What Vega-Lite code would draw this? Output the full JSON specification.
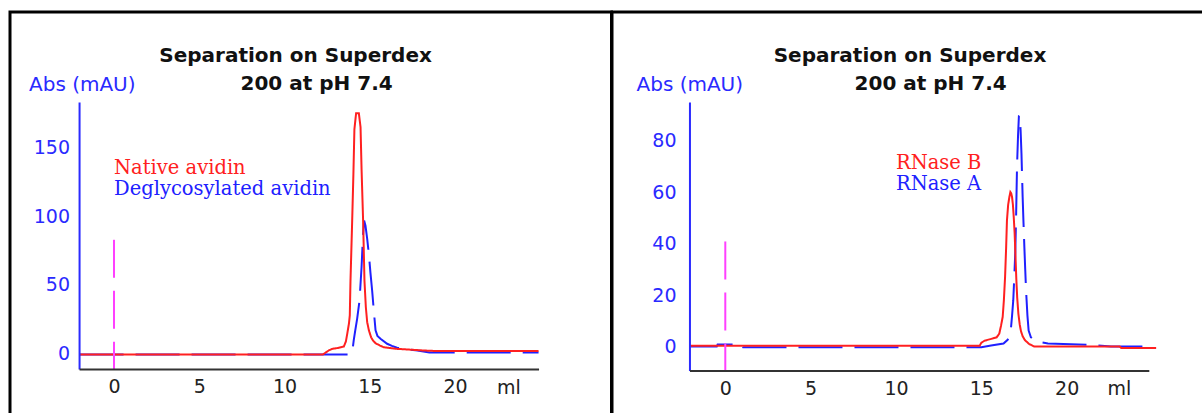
{
  "$schema": "https://vega.github.io/schema/vega-lite/v6.json",
  "padding": {"left": 8, "top": 10, "right": 0, "bottom": 0},
  "background": "white",
  "spacing": 0,
  "bounds": "flush",
  "config": {
    "view": {"stroke": "black", "strokeWidth": 3},
    "axis": {"grid": false, "domain": false, "ticks": false, "tickSize": 0, "labelFont": "DejaVu Sans", "labelFontSize": 19, "titleFont": "DejaVu Sans", "titleFontWeight": "normal", "labelFlush": false, "labelOverlap": false}
  },
  "datasets": {
    "avidin": [
      {"sample": "Deglycosylated avidin", "ml": -2.02, "abs": -0.5},
      {"sample": "Deglycosylated avidin", "ml": 13.9, "abs": -0.5},
      {"sample": "Deglycosylated avidin", "ml": 13.97, "abs": 1},
      {"sample": "Deglycosylated avidin", "ml": 14.06, "abs": 9.7},
      {"sample": "Deglycosylated avidin", "ml": 14.15, "abs": 17},
      {"sample": "Deglycosylated avidin", "ml": 14.26, "abs": 25.4},
      {"sample": "Deglycosylated avidin", "ml": 14.4, "abs": 38.7},
      {"sample": "Deglycosylated avidin", "ml": 14.52, "abs": 63},
      {"sample": "Deglycosylated avidin", "ml": 14.6, "abs": 85},
      {"sample": "Deglycosylated avidin", "ml": 14.67, "abs": 96.8},
      {"sample": "Deglycosylated avidin", "ml": 14.75, "abs": 93},
      {"sample": "Deglycosylated avidin", "ml": 14.85, "abs": 83.5},
      {"sample": "Deglycosylated avidin", "ml": 14.95, "abs": 72},
      {"sample": "Deglycosylated avidin", "ml": 15.04, "abs": 59},
      {"sample": "Deglycosylated avidin", "ml": 15.14, "abs": 46},
      {"sample": "Deglycosylated avidin", "ml": 15.24, "abs": 31},
      {"sample": "Deglycosylated avidin", "ml": 15.34, "abs": 17},
      {"sample": "Deglycosylated avidin", "ml": 15.45, "abs": 13},
      {"sample": "Deglycosylated avidin", "ml": 15.63, "abs": 10.9},
      {"sample": "Deglycosylated avidin", "ml": 16.02, "abs": 7.3},
      {"sample": "Deglycosylated avidin", "ml": 16.3, "abs": 5.8},
      {"sample": "Deglycosylated avidin", "ml": 16.6, "abs": 4.4},
      {"sample": "Deglycosylated avidin", "ml": 17.2, "abs": 3.2},
      {"sample": "Deglycosylated avidin", "ml": 17.8, "abs": 2.4},
      {"sample": "Deglycosylated avidin", "ml": 18.5, "abs": 1.0},
      {"sample": "Deglycosylated avidin", "ml": 24.9, "abs": 1.0},
      {"sample": "Native avidin", "ml": -2.02, "abs": -0.5},
      {"sample": "Native avidin", "ml": 12.25, "abs": -0.5},
      {"sample": "Native avidin", "ml": 12.4, "abs": 0.8},
      {"sample": "Native avidin", "ml": 12.6, "abs": 2.5},
      {"sample": "Native avidin", "ml": 12.8, "abs": 3.6},
      {"sample": "Native avidin", "ml": 13.1, "abs": 4.2},
      {"sample": "Native avidin", "ml": 13.48, "abs": 5.3},
      {"sample": "Native avidin", "ml": 13.6, "abs": 9},
      {"sample": "Native avidin", "ml": 13.68, "abs": 14.5},
      {"sample": "Native avidin", "ml": 13.78, "abs": 22},
      {"sample": "Native avidin", "ml": 13.83, "abs": 28},
      {"sample": "Native avidin", "ml": 13.87, "abs": 53},
      {"sample": "Native avidin", "ml": 13.92, "abs": 75},
      {"sample": "Native avidin", "ml": 13.97, "abs": 97},
      {"sample": "Native avidin", "ml": 14.04, "abs": 130},
      {"sample": "Native avidin", "ml": 14.1, "abs": 163},
      {"sample": "Native avidin", "ml": 14.2, "abs": 174.7},
      {"sample": "Native avidin", "ml": 14.36, "abs": 174.7},
      {"sample": "Native avidin", "ml": 14.46, "abs": 164.6},
      {"sample": "Native avidin", "ml": 14.52, "abs": 134},
      {"sample": "Native avidin", "ml": 14.61, "abs": 96.8},
      {"sample": "Native avidin", "ml": 14.69, "abs": 53},
      {"sample": "Native avidin", "ml": 14.77, "abs": 34},
      {"sample": "Native avidin", "ml": 14.85, "abs": 23},
      {"sample": "Native avidin", "ml": 14.95, "abs": 17},
      {"sample": "Native avidin", "ml": 15.08, "abs": 12},
      {"sample": "Native avidin", "ml": 15.2, "abs": 9.5},
      {"sample": "Native avidin", "ml": 15.34, "abs": 7.7},
      {"sample": "Native avidin", "ml": 15.6, "abs": 6},
      {"sample": "Native avidin", "ml": 15.82, "abs": 4.8},
      {"sample": "Native avidin", "ml": 16.6, "abs": 3.6},
      {"sample": "Native avidin", "ml": 17.4, "abs": 3},
      {"sample": "Native avidin", "ml": 18.2, "abs": 2.4},
      {"sample": "Native avidin", "ml": 19, "abs": 2.0},
      {"sample": "Native avidin", "ml": 24.9, "abs": 2.0}
    ],
    "rnase": [
      {"sample": "RNase A", "ml": -2.07, "abs": 0},
      {"sample": "RNase A", "ml": -0.5, "abs": 0},
      {"sample": "RNase A", "ml": -0.45, "abs": 0.8},
      {"sample": "RNase A", "ml": 1.0, "abs": 0.8},
      {"sample": "RNase A", "ml": 1.05, "abs": -0.3},
      {"sample": "RNase A", "ml": 15.0, "abs": -0.3},
      {"sample": "RNase A", "ml": 15.57, "abs": 0.4},
      {"sample": "RNase A", "ml": 16.3, "abs": 1.2},
      {"sample": "RNase A", "ml": 16.54, "abs": 2.6},
      {"sample": "RNase A", "ml": 16.65, "abs": 4},
      {"sample": "RNase A", "ml": 16.74, "abs": 7.5},
      {"sample": "RNase A", "ml": 16.8, "abs": 12},
      {"sample": "RNase A", "ml": 16.87, "abs": 18},
      {"sample": "RNase A", "ml": 16.93, "abs": 27},
      {"sample": "RNase A", "ml": 16.99, "abs": 37},
      {"sample": "RNase A", "ml": 17.04, "abs": 52},
      {"sample": "RNase A", "ml": 17.09, "abs": 70},
      {"sample": "RNase A", "ml": 17.15, "abs": 82},
      {"sample": "RNase A", "ml": 17.2, "abs": 89.5},
      {"sample": "RNase A", "ml": 17.25, "abs": 89.7},
      {"sample": "RNase A", "ml": 17.3, "abs": 84},
      {"sample": "RNase A", "ml": 17.35, "abs": 75},
      {"sample": "RNase A", "ml": 17.42, "abs": 58},
      {"sample": "RNase A", "ml": 17.47, "abs": 48},
      {"sample": "RNase A", "ml": 17.52, "abs": 38.6},
      {"sample": "RNase A", "ml": 17.57, "abs": 30},
      {"sample": "RNase A", "ml": 17.62, "abs": 21.7},
      {"sample": "RNase A", "ml": 17.7, "abs": 12},
      {"sample": "RNase A", "ml": 17.77, "abs": 6.2},
      {"sample": "RNase A", "ml": 17.9, "abs": 3.6},
      {"sample": "RNase A", "ml": 18.2, "abs": 2.0},
      {"sample": "RNase A", "ml": 18.9, "abs": 1.2},
      {"sample": "RNase A", "ml": 21.5, "abs": 0.6},
      {"sample": "RNase A", "ml": 22.6, "abs": 0},
      {"sample": "RNase A", "ml": 24.84, "abs": 0},
      {"sample": "RNase B", "ml": -2.07, "abs": 0.3},
      {"sample": "RNase B", "ml": 14.9, "abs": 0.3},
      {"sample": "RNase B", "ml": 15.0, "abs": 1.5},
      {"sample": "RNase B", "ml": 15.2, "abs": 2.3},
      {"sample": "RNase B", "ml": 15.6, "abs": 3.0},
      {"sample": "RNase B", "ml": 15.9, "abs": 3.6},
      {"sample": "RNase B", "ml": 16.05, "abs": 5},
      {"sample": "RNase B", "ml": 16.15, "abs": 8},
      {"sample": "RNase B", "ml": 16.25, "abs": 11.5},
      {"sample": "RNase B", "ml": 16.32, "abs": 18},
      {"sample": "RNase B", "ml": 16.39, "abs": 27},
      {"sample": "RNase B", "ml": 16.45, "abs": 38},
      {"sample": "RNase B", "ml": 16.5, "abs": 49},
      {"sample": "RNase B", "ml": 16.57, "abs": 55},
      {"sample": "RNase B", "ml": 16.64, "abs": 58},
      {"sample": "RNase B", "ml": 16.7, "abs": 60},
      {"sample": "RNase B", "ml": 16.75, "abs": 59.5},
      {"sample": "RNase B", "ml": 16.8, "abs": 58},
      {"sample": "RNase B", "ml": 16.85, "abs": 55},
      {"sample": "RNase B", "ml": 16.9, "abs": 50},
      {"sample": "RNase B", "ml": 16.95, "abs": 44},
      {"sample": "RNase B", "ml": 17.0, "abs": 35},
      {"sample": "RNase B", "ml": 17.05, "abs": 26},
      {"sample": "RNase B", "ml": 17.1, "abs": 19},
      {"sample": "RNase B", "ml": 17.17, "abs": 12.7},
      {"sample": "RNase B", "ml": 17.25, "abs": 8.5},
      {"sample": "RNase B", "ml": 17.32, "abs": 6},
      {"sample": "RNase B", "ml": 17.42, "abs": 4},
      {"sample": "RNase B", "ml": 17.55, "abs": 2.5},
      {"sample": "RNase B", "ml": 17.8, "abs": 1.0},
      {"sample": "RNase B", "ml": 18.1, "abs": 0},
      {"sample": "RNase B", "ml": 23.1, "abs": 0},
      {"sample": "RNase B", "ml": 23.2, "abs": -0.6},
      {"sample": "RNase B", "ml": 25.24, "abs": -0.6}
    ]
  },
  "hconcat": [
    {
      "width": 601.5,
      "height": 410,
      "layer": [
        {
          "data": {"name": "avidin"},
          "mark": {"type": "line", "strokeWidth": 2},
          "encoding": {
            "x": {"field": "ml", "type": "quantitative",
              "scale": {"domain": [-6.1, 29.179], "nice": false, "zero": false},
              "axis": {"values": [0, 5, 10, 15, 20], "offset": -52.5, "labelPadding": 8, "labelColor": "#222222",
                "title": "ml", "titleX": 498.5, "titleY": 23.5, "titleAlign": "center", "titleBaseline": "alphabetic", "titleFontSize": 19, "titleColor": "#222222"}},
            "y": {"field": "abs", "type": "quantitative",
              "scale": {"domain": [-49.5, 248.2], "nice": false, "zero": false},
              "axis": {"values": [0, 50, 100, 150], "offset": -69.5, "labelPadding": 10, "labelColor": "#2a2aff",
                "title": "Abs (mAU)", "titleAngle": 0, "titleX": -51, "titleY": 78.5, "titleAlign": "left", "titleBaseline": "alphabetic", "titleFontSize": 20, "titleColor": "#2a2aff"}},
            "color": {"field": "sample", "type": "nominal", "legend": null,
              "scale": {"domain": ["Native avidin", "Deglycosylated avidin"], "range": ["#ff2020", "#2020ff"]}},
            "strokeDash": {"field": "sample", "type": "nominal", "legend": null,
              "scale": {"domain": ["Native avidin", "Deglycosylated avidin"], "range": [[1, 0], [44, 12]]}}
          }
        },
        {
          "data": {"values": [{}]},
          "mark": {"type": "rule", "color": "#ff40ff", "strokeWidth": 2, "strokeDash": [38, 13]},
          "encoding": {"x": {"datum": 0}, "y": {"datum": 82.8}, "y2": {"datum": -11.4}}
        },
        {
          "data": {"values": [{}]},
          "mark": {"type": "rule", "color": "#2a2aff", "strokeWidth": 2},
          "encoding": {"x": {"datum": -2.02}, "y": {"datum": -11.4}, "y2": {"datum": 182.5}}
        },
        {
          "data": {"values": [{}]},
          "mark": {"type": "rule", "color": "#333333", "strokeWidth": 2},
          "encoding": {"x": {"datum": -2.02}, "x2": {"datum": 24.93}, "y": {"datum": -11.4}}
        },
        {
          "data": {"values": [{}]},
          "mark": {"type": "text", "text": "Separation on Superdex", "font": "DejaVu Sans", "fontWeight": "bold", "fontSize": 20, "color": "#111111", "align": "center", "baseline": "alphabetic"},
          "encoding": {"x": {"datum": 10.65}, "y": {"datum": 211.9}}
        },
        {
          "data": {"values": [{}]},
          "mark": {"type": "text", "text": "200 at pH 7.4", "font": "DejaVu Sans", "fontWeight": "bold", "fontSize": 20, "color": "#111111", "align": "center", "baseline": "alphabetic"},
          "encoding": {"x": {"datum": 11.88}, "y": {"datum": 191.9}}
        },
        {
          "data": {"values": [{"sample": "Native avidin"}]},
          "mark": {"type": "text", "font": "DejaVu Serif", "fontSize": 19.5, "align": "left", "baseline": "alphabetic"},
          "encoding": {"x": {"datum": 0}, "y": {"datum": 130.9}, "text": {"field": "sample"},
            "color": {"field": "sample", "type": "nominal", "legend": null,
              "scale": {"domain": ["Native avidin", "Deglycosylated avidin"], "range": ["#ff2020", "#2020ff"]}}}
        },
        {
          "data": {"values": [{"sample": "Deglycosylated avidin"}]},
          "mark": {"type": "text", "font": "DejaVu Serif", "fontSize": 19.5, "align": "left", "baseline": "alphabetic"},
          "encoding": {"x": {"datum": 0}, "y": {"datum": 115.0}, "text": {"field": "sample"},
            "color": {"field": "sample", "type": "nominal", "legend": null,
              "scale": {"domain": ["Native avidin", "Deglycosylated avidin"], "range": ["#ff2020", "#2020ff"]}}}
        }
      ]
    },
    {
      "width": 600,
      "height": 410,
      "layer": [
        {
          "data": {"name": "rnase"},
          "mark": {"type": "line", "strokeWidth": 2},
          "encoding": {
            "x": {"field": "ml", "type": "quantitative",
              "scale": {"domain": [-6.637, 28.512], "nice": false, "zero": false},
              "axis": {"values": [0, 5, 10, 15, 20], "offset": -51, "labelPadding": 8, "labelColor": "#222222",
                "title": "ml", "titleX": 507, "titleY": 23.5, "titleAlign": "center", "titleBaseline": "alphabetic", "titleFontSize": 19, "titleColor": "#222222"}},
            "y": {"field": "abs", "type": "quantitative",
              "scale": {"domain": [-29.3, 129.9], "nice": false, "zero": false},
              "axis": {"values": [0, 20, 40, 60, 80], "offset": -78, "labelPadding": 14, "labelColor": "#2a2aff",
                "title": "Abs (mAU)", "titleAngle": 0, "titleX": -54, "titleY": 78.5, "titleAlign": "left", "titleBaseline": "alphabetic", "titleFontSize": 20, "titleColor": "#2a2aff"}},
            "color": {"field": "sample", "type": "nominal", "legend": null,
              "scale": {"domain": ["RNase B", "RNase A"], "range": ["#ff2020", "#2020ff"]}},
            "strokeDash": {"field": "sample", "type": "nominal", "legend": null,
              "scale": {"domain": ["RNase B", "RNase A"], "range": [[1, 0], [44, 12]]}}
          }
        },
        {
          "data": {"values": [{}]},
          "mark": {"type": "rule", "color": "#ff40ff", "strokeWidth": 2, "strokeDash": [38, 13]},
          "encoding": {"x": {"datum": 0}, "y": {"datum": 40.8}, "y2": {"datum": -9.5}}
        },
        {
          "data": {"values": [{}]},
          "mark": {"type": "rule", "color": "#2a2aff", "strokeWidth": 2},
          "encoding": {"x": {"datum": -2.07}, "y": {"datum": -9.5}, "y2": {"datum": 94.8}}
        },
        {
          "data": {"values": [{}]},
          "mark": {"type": "rule", "color": "#333333", "strokeWidth": 2},
          "encoding": {"x": {"datum": -2.07}, "x2": {"datum": 24.84}, "y": {"datum": -9.5}}
        },
        {
          "data": {"values": [{}]},
          "mark": {"type": "text", "text": "Separation on Superdex", "font": "DejaVu Sans", "fontWeight": "bold", "fontSize": 20, "color": "#111111", "align": "center", "baseline": "alphabetic"},
          "encoding": {"x": {"datum": 10.82}, "y": {"datum": 110.5}}
        },
        {
          "data": {"values": [{}]},
          "mark": {"type": "text", "text": "200 at pH 7.4", "font": "DejaVu Sans", "fontWeight": "bold", "fontSize": 20, "color": "#111111", "align": "center", "baseline": "alphabetic"},
          "encoding": {"x": {"datum": 12.03}, "y": {"datum": 99.8}}
        },
        {
          "data": {"values": [{"sample": "RNase B"}]},
          "mark": {"type": "text", "font": "DejaVu Serif", "fontSize": 19.5, "align": "left", "baseline": "alphabetic"},
          "encoding": {"x": {"datum": 10}, "y": {"datum": 69.1}, "text": {"field": "sample"},
            "color": {"field": "sample", "type": "nominal", "legend": null,
              "scale": {"domain": ["RNase B", "RNase A"], "range": ["#ff2020", "#2020ff"]}}}
        },
        {
          "data": {"values": [{"sample": "RNase A"}]},
          "mark": {"type": "text", "font": "DejaVu Serif", "fontSize": 19.5, "align": "left", "baseline": "alphabetic"},
          "encoding": {"x": {"datum": 10}, "y": {"datum": 60.6}, "text": {"field": "sample"},
            "color": {"field": "sample", "type": "nominal", "legend": null,
              "scale": {"domain": ["RNase B", "RNase A"], "range": ["#ff2020", "#2020ff"]}}}
        }
      ]
    }
  ]
}
